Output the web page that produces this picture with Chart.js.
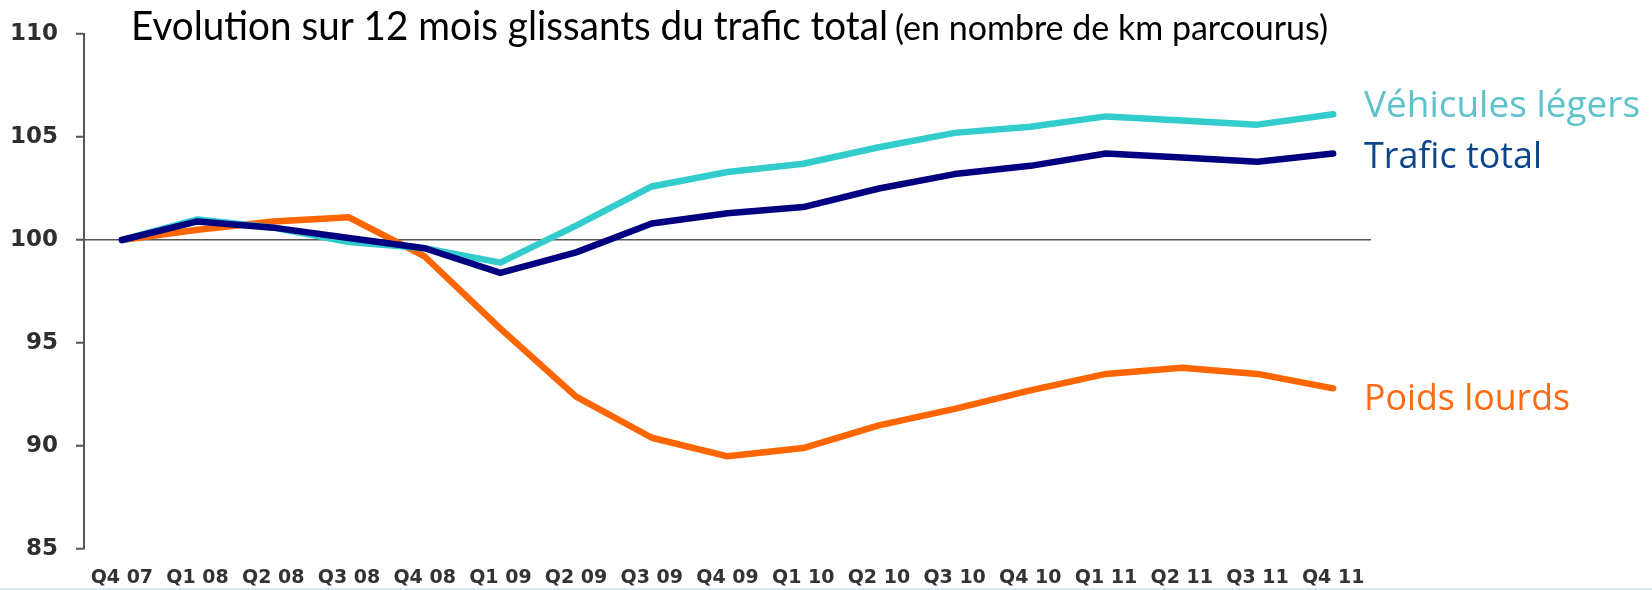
<!DOCTYPE html>
<html lang="fr">
<head>
<meta charset="utf-8">
<title>Evolution sur 12 mois glissants du trafic total</title>
<script src="https://cdn.jsdelivr.net/npm/chart.js@4.4.1/dist/chart.umd.min.js"></script>
<style>
  html, body { margin: 0; padding: 0; background: #fff; }
  #conteneur { width: 1652px; height: 590px; }
</style>
</head>
<body>
<div id="conteneur"><canvas id="graphiqueTrafic" width="1652" height="590"></canvas></div>
<script>
const trimestres = [
  "Q4 07", "Q1 08", "Q2 08", "Q3 08", "Q4 08", "Q1 09", "Q2 09", "Q3 09", "Q4 09",
  "Q1 10", "Q2 10", "Q3 10", "Q4 10", "Q1 11", "Q2 11", "Q3 11", "Q4 11"
];

const vehiculesLegers = [100, 101.0, 100.6, 99.9, 99.6, 98.9, 100.7, 102.6, 103.3,
  103.7, 104.5, 105.2, 105.5, 106.0, 105.8, 105.6, 106.1];
const traficTotal = [100, 100.9, 100.6, 100.1, 99.6, 98.4, 99.4, 100.8, 101.3,
  101.6, 102.5, 103.2, 103.6, 104.2, 104.0, 103.8, 104.2];
const poidsLourds = [100, 100.5, 100.9, 101.1, 99.2, 95.7, 92.4, 90.4, 89.5,
  89.9, 91.0, 91.8, 92.7, 93.5, 93.8, 93.5, 92.8];

const graduationsY = [85, 90, 95, 100, 105, 110];

const titre = "Evolution sur 12 mois glissants du trafic total";
const sousTitre = "(en nombre de km parcourus)";

const etiquettes = [
  { texte: "Véhicules légers", serie: vehiculesLegers, couleur: "#5fc2ca", decalage: -8, largeur: 276 },
  { texte: "Trafic total", serie: traficTotal, couleur: "#0b468c", decalage: 4, largeur: 178 },
  { texte: "Poids lourds", serie: poidsLourds, couleur: "#ff6a13", decalage: 11, largeur: 206 }
];

const pluginTitre = {
  id: "pluginTitre",
  afterDraw(chart) {
    const ctx = chart.ctx;
    ctx.save();
    ctx.fillStyle = "#000";
    ctx.textBaseline = "alphabetic";
    ctx.textAlign = "left";
    ctx.font = "41px Lato";
    ctx.fillText(titre, 131, 40, 757);
    ctx.font = "34px Lato";
    ctx.fillText(sousTitre, 895, 40, 436);

    // filet bleu clair en bas de l'image
    ctx.fillStyle = "#d3eaee";
    ctx.fillRect(0, chart.height - 2, chart.width, 2);
    ctx.restore();
  }
};

const pluginEtiquettes = {
  id: "pluginEtiquettes",
  afterDatasetsDraw(chart) {
    const ctx = chart.ctx;
    const echelleY = chart.scales.y;
    const x = chart.chartArea.right - 7;

    ctx.save();
    ctx.font = "37px 'Open Sans'";
    ctx.textAlign = "left";
    ctx.textBaseline = "middle";

    etiquettes.forEach((etiquette) => {
      const derniere = etiquette.serie[etiquette.serie.length - 1];
      const y = echelleY.getPixelForValue(derniere) + etiquette.decalage;
      ctx.fillStyle = etiquette.couleur;
      ctx.fillText(etiquette.texte, x, y, etiquette.largeur);
    });

    ctx.restore();
  }
};

function serie(donnees, couleur) {
  return {
    data: donnees,
    borderColor: couleur,
    backgroundColor: couleur,
    borderWidth: 6.5,
    borderCapStyle: "round",
    borderJoinStyle: "round",
    pointRadius: 0,
    tension: 0,
    clip: false
  };
}

new Chart(document.getElementById("graphiqueTrafic"), {
  type: "line",

  data: {
    labels: trimestres,
    datasets: [
      serie(traficTotal, "#000080"),
      serie(vehiculesLegers, "#33cccc"),
      serie(poidsLourds, "#ff6600")
    ]
  },

  options: {
    responsive: false,
    animation: false,
    events: [],

    layout: {
      padding: { top: 34, right: 281, bottom: 0, left: 0 }
    },

    plugins: {
      legend: { display: false },
      tooltip: { enabled: false }
    },

    scales: {
      x: {
        offset: true,
        afterFit: (echelle) => { echelle.height = 41; },
        grid: { display: false },
        border: { display: false },
        ticks: {
          color: "#333",
          padding: 10,
          maxRotation: 0,
          autoSkip: false,
          font: { family: "'DejaVu Sans'", size: 19, weight: "bold" }
        }
      },

      y: {
        min: 85,
        max: 110,
        afterFit: (echelle) => { echelle.width = 84; },
        afterBuildTicks: (echelle) => {
          echelle.ticks = graduationsY.map((valeur) => ({ value: valeur }));
        },
        border: { display: true, color: "#555", width: 2 },
        grid: {
          drawOnChartArea: true,
          tickLength: 8,
          tickWidth: 2,
          tickColor: "#555",
          lineWidth: 1.5,
          color: (contexte) => (contexte.tick && contexte.tick.value === 100 ? "#555" : "rgba(0,0,0,0)")
        },
        ticks: {
          color: "#2e2e2e",
          padding: 18,
          font: { family: "'DejaVu Sans'", size: 23, weight: "bold" }
        }
      }
    }
  },

  plugins: [pluginTitre, pluginEtiquettes]
});
</script>
</body>
</html>
